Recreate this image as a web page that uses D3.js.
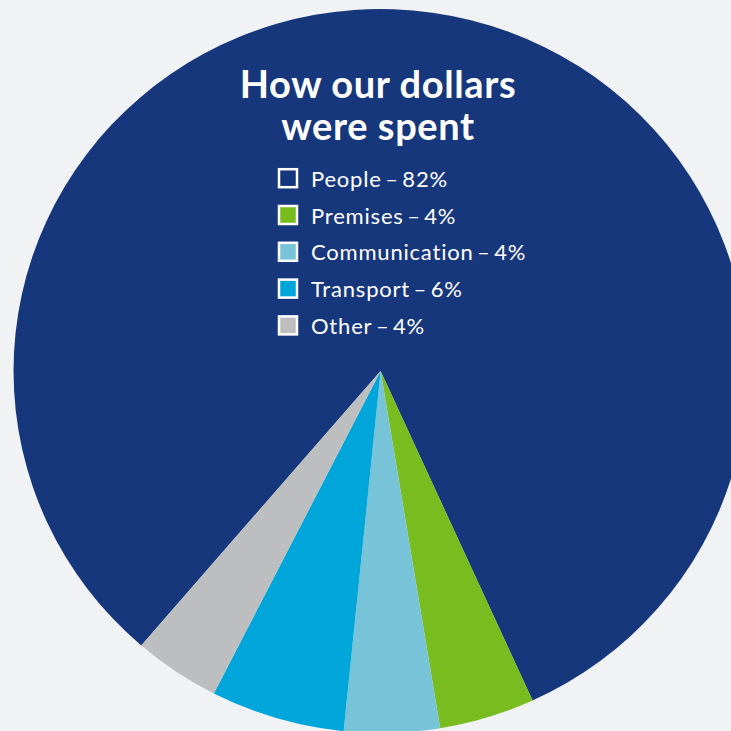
<!DOCTYPE html>
<html><head><meta charset="utf-8">
<script src="https://cdn.jsdelivr.net/npm/d3@7"></script>
<style>html,body{margin:0;padding:0;background:#f1f2f4;}svg{display:block;}</style>
</head><body>
<svg id="c" width="731" height="731"></svg>
<script>
const categories = ["People", "Premises", "Communication", "Transport", "Other"];
const labelPercents = [82, 4, 4, 6, 4];
const sliceValues = [81.9, 4.2, 4.2, 5.9, 3.8];
const colors = ["#17377d", "#78bc1f", "#77c3d8", "#00a5da", "#bcbec0"];
const titleLines = ["How our dollars", "were spent"];

const svg = d3.select("#c");
svg.append("rect").attr("width", 731).attr("height", 731).attr("fill", "#f1f2f4");

const cx = 380.6, cy = 371, r = 362;
const g = svg.append("g").attr("transform", `translate(${cx},${cy}) scale(1.014,1)`);

const startDeg = -139.3;
const pie = d3.pie().sort(null).value(d => d)
  .startAngle(startDeg * Math.PI / 180)
  .endAngle((startDeg + 360) * Math.PI / 180);
const arc = d3.arc().innerRadius(0).outerRadius(r);

g.selectAll("path").data(pie(sliceValues)).enter().append("path")
  .attr("d", arc)
  .attr("fill", (d, i) => colors[i]);

// title
svg.append("g").selectAll("text").data(titleLines).enter().append("text")
  .attr("x", 378).attr("y", (d, i) => 98 + i * 42)
  .attr("text-anchor", "middle")
  .attr("fill", "#ffffff")
  .attr("font-family", "Lato, sans-serif")
  .attr("font-weight", "bold")
  .attr("font-size", 38)
  .attr("letter-spacing", 0.6)
  .text(d => d);

// legend
const leg = svg.append("g");
const rows = leg.selectAll("g").data(categories).enter().append("g")
  .attr("transform", (d, i) => `translate(0,${186.7 + i * 36.8})`);
rows.append("rect")
  .attr("x", 279).attr("y", -17.5).attr("width", 18).attr("height", 18)
  .attr("fill", (d, i) => colors[i])
  .attr("stroke", "#ffffff").attr("stroke-width", 2.5);
rows.append("text")
  .attr("x", 311).attr("y", 0)
  .attr("fill", "#ffffff")
  .attr("font-family", "Lato, sans-serif")
  .attr("font-size", 22)
  .attr("letter-spacing", 0.8)
  .text((d, i) => `${d}\u2009–\u2009${labelPercents[i]}%`);
</script>
</body></html>
